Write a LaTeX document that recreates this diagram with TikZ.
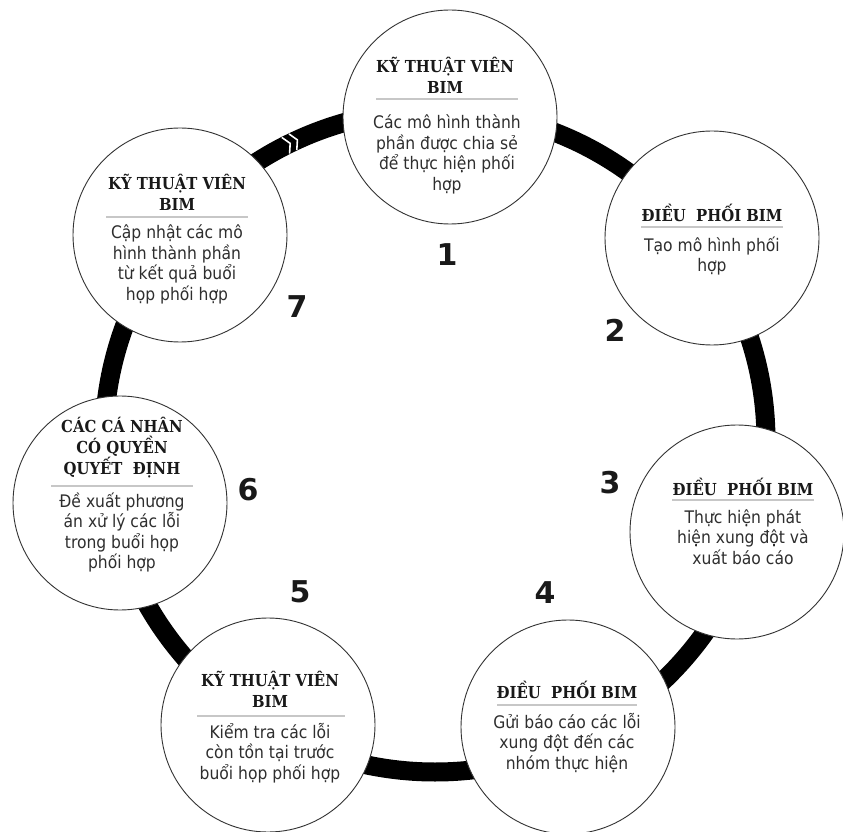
\documentclass[tikz,border=0pt]{standalone}
\usepackage{fontspec}
\setmainfont{DejaVu Sans Condensed}
\newfontfamily\hdfont{DejaVu Serif Condensed}
\newfontfamily\numfont{DejaVu Sans}
\usetikzlibrary{calc}
\tikzset{
  stage/.style={circle, draw=black!80, line width=0.9pt, fill=white, minimum size=214pt, inner sep=0pt},
  head/.style={font=\hdfont\bfseries\fontsize{16.5}{21}\selectfont, text=black!90, align=center, inner sep=0pt},
  body/.style={font=\fontsize{17.3}{20.5}\selectfont, text=black!82, align=center, inner sep=0pt},
  sepline/.style={draw=black!22, line width=1.4pt},
  num/.style={font=\numfont\bfseries\fontsize{30}{30}\selectfont, text=black!90, inner sep=0pt},
  ringline/.style={line width=19pt, draw=black},
  chev/.style={draw=white, line width=1.6pt}
}
\begin{document}
\begin{tikzpicture}[x=1pt,y=1pt]
\useasboundingbox (0,0) rectangle (843,831);
\fill[white] (0,0) rectangle (843,831);
\coordinate (rc) at (435,390);
\draw[ringline] (rc) circle (331);
% chevrons on ring
\coordinate (chv) at ($(rc)+(115.6:331)$);
\begin{scope}[shift={(chv)}, rotate=25.6]
  \draw[chev] (-7,-9) -- (-2,0) -- (-7,9);
  \draw[chev] (1,-9) -- (6,0) -- (1,9);
\end{scope}
% circles
\node[stage] (c1) at (450,714) {};
\node[stage] (c2) at (712,593) {};
\node[stage] (c3) at (737,299) {};
\node[stage] (c4) at (568,104) {};
\node[stage] (c5) at (268,106) {};
\node[stage] (c6) at (120,328) {};
\node[stage] (c7) at (180,596) {};
% circle 1
\node[head] (h1) at (445,755.5) {KỸ THUẬT VIÊN\\BIM};
\coordinate (s1a) at (376,732); \coordinate (s1b) at (518,732);
\draw[sepline] (s1a) -- (s1b);
\node[body] (b1) at (447,676.5) {Các mô hình thành\\phần được chia sẻ\\để thực hiện phối\\hợp};
% circle 2
\node[head] (h2) at (712,618) {ĐIỀU\ \ PHỐI BIM};
\coordinate (s2a) at (641,604); \coordinate (s2b) at (783,604);
\draw[sepline] (s2a) -- (s2b);
\node[body] (b2) at (712,575) {Tạo mô hình phối\\hợp};
% circle 3
\node[head] (h3) at (743,344) {ĐIỀU\ \ PHỐI BIM};
\coordinate (s3a) at (672,331); \coordinate (s3b) at (814,331);
\draw[sepline] (s3a) -- (s3b);
\node[body] (b3) at (743,294) {Thực hiện phát\\hiện xung đột và\\xuất báo cáo};
% circle 4
\node[head] (h4) at (567,141) {ĐIỀU\ \ PHỐI BIM};
\coordinate (s4a) at (497,126); \coordinate (s4b) at (637,126);
\draw[sepline] (s4a) -- (s4b);
\node[body] (b4) at (567,88) {Gửi báo cáo các lỗi\\xung đột đến các\\nhóm thực hiện};
% circle 5
\node[head] (h5) at (270,142) {KỸ THUẬT VIÊN\\BIM};
\coordinate (s5a) at (197,115); \coordinate (s5b) at (345,115);
\draw[sepline] (s5a) -- (s5b);
\node[body] (b5) at (270,78) {Kiểm tra các lỗi\\còn tồn tại trước\\buổi họp phối hợp};
% circle 6
\node[head] (h6) at (122,383) {CÁC CÁ NHÂN\\CÓ QUYỀN\\QUYẾT\ \ ĐỊNH};
\coordinate (s6a) at (51,345); \coordinate (s6b) at (193,345);
\draw[sepline] (s6a) -- (s6b);
\node[body] (b6) at (122,298.5) {Đề xuất phương\\án xử lý các lỗi\\trong buổi họp\\phối hợp};
% circle 7
\node[head] (h7) at (177,639) {KỸ THUẬT VIÊN\\BIM};
\coordinate (s7a) at (106,614); \coordinate (s7b) at (248,614);
\draw[sepline] (s7a) -- (s7b);
\node[body] (b7) at (177,566.5) {Cập nhật các mô\\hình thành phần\\từ kết quả buổi\\họp phối hợp};
% numbers
\node[num] (n1) at (447,576) {1};
\node[num] (n2) at (615,501) {2};
\node[num] (n3) at (610,348) {3};
\node[num] (n4) at (545,238) {4};
\node[num] (n5) at (300,239) {5};
\node[num] (n6) at (248,341) {6};
\node[num] (n7) at (297,524) {7};
\end{tikzpicture}
\end{document}
